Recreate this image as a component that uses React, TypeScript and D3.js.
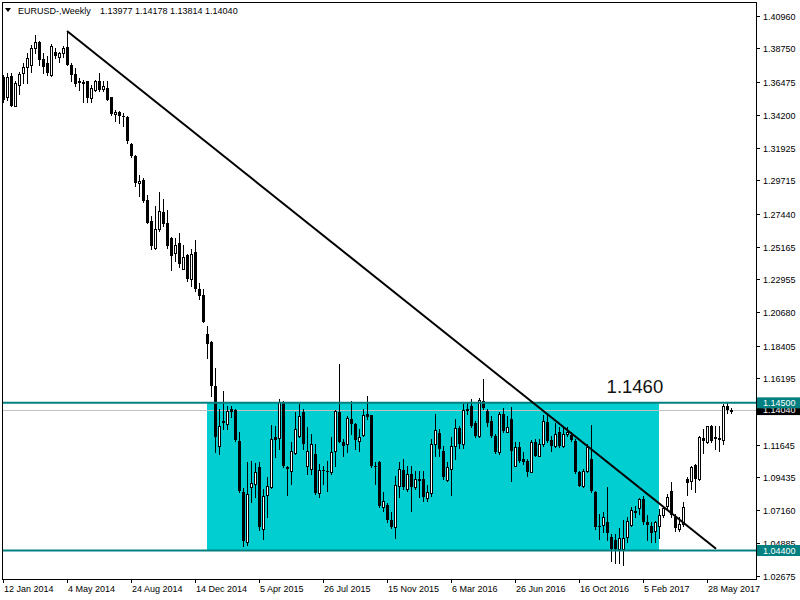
import React from 'react';
import * as d3 from 'd3';

// Weekly EURUSD candles, bar 0 = week of 12 Jan 2014
const opens = [
  1.3682, 1.3541, 1.3686, 1.3482, 1.3625, 1.3705, 1.3750, 1.3762, 1.3876, 1.3921,
  1.3801, 1.3773, 1.3693, 1.3852, 1.3814, 1.3841, 1.3887, 1.3762, 1.3700, 1.3648,
  1.3636, 1.3648, 1.3534, 1.3591, 1.3652, 1.3596, 1.3603, 1.3541, 1.3427, 1.3436,
  1.3409, 1.3402, 1.3220, 1.3136, 1.2954, 1.2977, 1.2840, 1.2692, 1.2511, 1.2636,
  1.2757, 1.2681, 1.2579, 1.2477, 1.2540, 1.2367, 1.2458, 1.2294, 1.2481, 1.2231,
  1.2185, 1.1919, 1.1863, 1.1566, 1.1157, 1.1325, 1.1305, 1.1407, 1.1400, 1.1191,
  1.0839, 1.0497, 1.0874, 1.0895, 1.1009, 1.0588, 1.0822, 1.0874, 1.1214, 1.1207,
  1.1453, 1.1009, 1.0986, 1.1107, 1.1221, 1.1385, 1.1017, 1.0998, 1.1100, 1.0834,
  1.0993, 1.0986, 1.0975, 1.1123, 1.1389, 1.1180, 1.1168, 1.1339, 1.1305, 1.1191,
  1.1230, 1.1373, 1.1366, 1.1020, 1.1043, 1.0736, 1.0754, 1.0652, 1.0600, 1.0880,
  1.0993, 1.0861, 1.0964, 1.0874, 1.0930, 1.0930, 1.0798, 1.0834, 1.1168, 1.1244,
  1.1123, 1.0925, 1.0998, 1.1153, 1.1276, 1.1168, 1.1407, 1.1430, 1.1312, 1.1221,
  1.1464, 1.1395, 1.1328, 1.1221, 1.1116, 1.1373, 1.1253, 1.1339, 1.1020, 1.1146,
  1.1066, 1.1054, 1.0979, 1.1184, 1.1089, 1.1168, 1.1321, 1.1198, 1.1157, 1.1248,
  1.1157, 1.1237, 1.1230, 1.1191, 1.0975, 1.0884, 1.0986, 1.1066, 1.0843, 1.0611,
  1.0616, 1.0634, 1.0534, 1.0512, 1.0448, 1.0448, 1.0532, 1.0616, 1.0712, 1.0729,
  1.0793, 1.0634, 1.0608, 1.0570, 1.0611, 1.0680, 1.0743, 1.0850, 1.0668, 1.0588,
  1.0623, 1.0930, 1.0918, 1.1025, 1.0930, 1.1207, 1.1184, 1.1289, 1.1214, 1.1207,
  1.1198, 1.1426, 1.13977,
];
const highs = [
  1.3693, 1.3705, 1.3705, 1.3648, 1.3716, 1.3777, 1.3841, 1.3898, 1.3966, 1.3925,
  1.3841, 1.3823, 1.3905, 1.3876, 1.3852, 1.3891, 1.3993, 1.3773, 1.3739, 1.3671,
  1.3660, 1.3650, 1.3625, 1.3659, 1.3705, 1.3648, 1.3648, 1.3545, 1.3450, 1.3443,
  1.3432, 1.3409, 1.3227, 1.3147, 1.3011, 1.2990, 1.2870, 1.2726, 1.2795, 1.2890,
  1.2847, 1.2772, 1.2585, 1.2579, 1.2613, 1.2533, 1.2465, 1.2504, 1.2567, 1.2272,
  1.2226, 1.1976, 1.1870, 1.1685, 1.1407, 1.1534, 1.1430, 1.1430, 1.1410, 1.1248,
  1.0870, 1.1043, 1.1052, 1.1040, 1.1043, 1.0861, 1.0941, 1.1298, 1.1294, 1.1476,
  1.1464, 1.1020, 1.1180, 1.1385, 1.1442, 1.1407, 1.1282, 1.1237, 1.1168, 1.1032,
  1.1020, 1.1054, 1.1214, 1.1400, 1.1714, 1.1203, 1.1362, 1.1461, 1.1310, 1.1271,
  1.1407, 1.1495, 1.1370, 1.1043, 1.1054, 1.0839, 1.0766, 1.0702, 1.0952, 1.1043,
  1.1066, 1.1020, 1.1020, 1.0986, 1.0986, 1.0986, 1.0890, 1.1200, 1.1376, 1.1271,
  1.1157, 1.1043, 1.1218, 1.1342, 1.1294, 1.1442, 1.1453, 1.1476, 1.1328, 1.1480,
  1.1616, 1.1407, 1.1362, 1.1237, 1.1385, 1.1415, 1.1362, 1.1424, 1.1180, 1.1185,
  1.1111, 1.1066, 1.1198, 1.1203, 1.1203, 1.1367, 1.1373, 1.1221, 1.1312, 1.1282,
  1.1282, 1.1282, 1.1253, 1.1203, 1.0986, 1.0998, 1.1168, 1.1300, 1.0850, 1.0691,
  1.0702, 1.0874, 1.0554, 1.0554, 1.0595, 1.0649, 1.0668, 1.0736, 1.0747, 1.0798,
  1.0816, 1.0680, 1.0638, 1.0645, 1.0725, 1.0747, 1.0827, 1.0906, 1.0691, 1.0668,
  1.0775, 1.0941, 1.1020, 1.1032, 1.1221, 1.1268, 1.1294, 1.1296, 1.1294, 1.1289,
  1.1445, 1.1448, 1.14178,
];
const lows = [
  1.3511, 1.3523, 1.3478, 1.3478, 1.3564, 1.3641, 1.3641, 1.3716, 1.3841, 1.3762,
  1.3705, 1.3693, 1.3686, 1.3807, 1.3784, 1.3818, 1.3758, 1.3648, 1.3614, 1.3591,
  1.3505, 1.3511, 1.3511, 1.3580, 1.3580, 1.3580, 1.3520, 1.3420, 1.3375, 1.3364,
  1.3341, 1.3227, 1.3130, 1.2931, 1.2863, 1.2825, 1.2677, 1.2499, 1.2499, 1.2624,
  1.2658, 1.2511, 1.2358, 1.2420, 1.2381, 1.2363, 1.2283, 1.2249, 1.2215, 1.2158,
  1.2000, 1.1760, 1.1498, 1.1112, 1.1100, 1.1270, 1.1271, 1.1350, 1.1190, 1.0843,
  1.0470, 1.0480, 1.0770, 1.0804, 1.0577, 1.0520, 1.0668, 1.0866, 1.1080, 1.1134,
  1.1009, 1.0820, 1.0895, 1.1100, 1.1214, 1.1134, 1.0964, 1.0964, 1.0827, 1.0804,
  1.0895, 1.0850, 1.0964, 1.1020, 1.1180, 1.1089, 1.1111, 1.1237, 1.1134, 1.1123,
  1.1221, 1.1339, 1.1009, 1.0895, 1.0736, 1.0713, 1.0638, 1.0592, 1.0524, 1.0804,
  1.0861, 1.0850, 1.0711, 1.0861, 1.0804, 1.0782, 1.0780, 1.0810, 1.1089, 1.1089,
  1.0930, 1.0918, 1.0822, 1.1066, 1.1144, 1.1144, 1.1375, 1.1282, 1.1214, 1.1214,
  1.1405, 1.1289, 1.1214, 1.1107, 1.1100, 1.1248, 1.1248, 1.0912, 1.1017, 1.1043,
  1.1032, 1.0952, 1.0975, 1.1084, 1.1084, 1.1157, 1.1180, 1.1123, 1.1146, 1.1146,
  1.1146, 1.1225, 1.1191, 1.0970, 1.0880, 1.0874, 1.0979, 1.0843, 1.0588, 1.0520,
  1.0566, 1.0509, 1.0367, 1.0355, 1.0352, 1.0341, 1.0495, 1.0611, 1.0668, 1.0691,
  1.0623, 1.0512, 1.0500, 1.0497, 1.0525, 1.0668, 1.0725, 1.0668, 1.0570, 1.0570,
  1.0611, 1.0821, 1.0861, 1.0838, 1.0925, 1.1110, 1.1176, 1.1180, 1.1134, 1.1120,
  1.1168, 1.1380, 1.13814,
];
const closes = [
  1.3523, 1.3678, 1.3482, 1.3641, 1.3700, 1.3750, 1.3807, 1.3876, 1.3921, 1.3796,
  1.3750, 1.3705, 1.3891, 1.3823, 1.3841, 1.3876, 1.3762, 1.3693, 1.3632, 1.3637,
  1.3643, 1.3534, 1.3603, 1.3648, 1.3591, 1.3614, 1.3523, 1.3427, 1.3436, 1.3409,
  1.3405, 1.3238, 1.3136, 1.2954, 1.2970, 1.2829, 1.2681, 1.2522, 1.2636, 1.2761,
  1.2670, 1.2522, 1.2454, 1.2533, 1.2397, 1.2449, 1.2294, 1.2465, 1.2226, 1.2181,
  1.2003, 1.1851, 1.1566, 1.1214, 1.1289, 1.1312, 1.1395, 1.1390, 1.1199, 1.0850,
  1.0502, 1.0827, 1.0901, 1.0975, 1.0600, 1.0816, 1.0880, 1.1203, 1.1198, 1.1453,
  1.1017, 1.0998, 1.1118, 1.1271, 1.1362, 1.1168, 1.1123, 1.1168, 1.0834, 1.0993,
  1.0986, 1.0975, 1.1111, 1.1395, 1.1184, 1.1157, 1.1344, 1.1305, 1.1198, 1.1214,
  1.1366, 1.1355, 1.1020, 1.1009, 1.0743, 1.0777, 1.0652, 1.0600, 1.0888, 1.0998,
  1.0874, 1.0964, 1.0874, 1.0930, 1.0918, 1.0804, 1.0839, 1.1168, 1.1264, 1.1134,
  1.0941, 1.1009, 1.1157, 1.1276, 1.1168, 1.1400, 1.1395, 1.1289, 1.1225, 1.1471,
  1.1412, 1.1312, 1.1225, 1.1111, 1.1373, 1.1259, 1.1282, 1.1123, 1.1146, 1.1054,
  1.1048, 1.0979, 1.1180, 1.1089, 1.1168, 1.1328, 1.1191, 1.1157, 1.1237, 1.1157,
  1.1237, 1.1248, 1.1198, 1.0975, 1.0884, 1.0986, 1.1146, 1.0850, 1.0600, 1.0600,
  1.0668, 1.0558, 1.0448, 1.0448, 1.0523, 1.0523, 1.0645, 1.0714, 1.0695, 1.0793,
  1.0634, 1.0614, 1.0558, 1.0634, 1.0680, 1.0729, 1.0804, 1.0680, 1.0593, 1.0623,
  1.0736, 1.0903, 1.1009, 1.0930, 1.1214, 1.1191, 1.1289, 1.1191, 1.1203, 1.1198,
  1.1430, 1.1398, 1.14040,
];

const dateLabels = [
  '12 Jan 2014', '4 May 2014', '24 Aug 2014', '14 Dec 2014', '5 Apr 2015', '26 Jul 2015',
  '15 Nov 2015', '6 Mar 2016', '26 Jun 2016', '16 Oct 2016', '5 Feb 2017', '28 May 2017',
];
const dateLabelBars = [0, 16, 32, 48, 64, 80, 96, 112, 128, 144, 160, 176];

const priceTicks = [
  1.4096, 1.3875, 1.36475, 1.342, 1.31925, 1.29715, 1.2744, 1.25165, 1.22955,
  1.2068, 1.18405, 1.16195, 1.11645, 1.09435, 1.0716, 1.04885, 1.02675,
];

const levelPrices = [1.145, 1.044];
const zoneBars = [51, 164];
const trendBars = [16, 178.25];
const trendPrices = [1.3993, 1.0452];
const symbolTitle = 'EURUSD-,Weekly';
const annotationText = '1.1460';
const annotationBar = 150.9;
const annotationPrice = 1.1514;

const FONT = "'Liberation Sans', Arial, sans-serif";
const TEAL = '#008080';
const ZONE = '#00CED1';

export default function App() {
  const n = closes.length;
  const last = n - 1;
  const x = d3.scaleLinear().domain([0, 182]).range([3, 731]);
  const y = d3.scaleLinear().domain([1.044, 1.4096]).range([550.5, 16]);
  const fmt = d3.format('.5f');

  const plotL = 2, plotR = 756, plotT = 2, plotB = 579;
  const bidPrice = closes[last];

  const candles = d3.range(n).map((i) => {
    const px = Math.round(x(i));
    const o = opens[i], c = closes[i], h = highs[i], l = lows[i];
    const top = Math.round(y(Math.max(o, c)));
    const bot = Math.round(y(Math.min(o, c)));
    const up = c > o;
    return (
      <g key={i}>
        <line x1={px + 0.5} x2={px + 0.5} y1={Math.round(y(h))} y2={Math.round(y(l)) + 1} stroke="#000" strokeWidth={1} />
        {up ? (
          <rect x={px - 0.5} y={top + 0.5} width={2} height={Math.max(bot - top, 1)} fill="#fff" stroke="#000" strokeWidth={1} />
        ) : (
          <rect x={px - 1} y={top} width={3} height={Math.max(bot - top, 1)} fill="#000" />
        )}
      </g>
    );
  });

  const levelLabelBoxes = levelPrices.map((p, k) => {
    const yy = y(p);
    return (
      <g key={'lvl' + k}>
        <rect x={plotR + 1} y={yy - 5.5} width={44} height={11} fill={TEAL} />
        <text x={763} y={yy + 3.3} fill="#fff" fontSize={9} fontFamily={FONT}>{fmt(p)}</text>
      </g>
    );
  });

  return (
    <svg width={800} height={600} style={{ position: 'absolute', left: 0, top: 0, background: '#fff' }}>
      <rect x={0} y={0} width={800} height={600} fill="#fff" />
      {/* support/resistance zone */}
      <rect x={x(zoneBars[0])} y={y(levelPrices[0])} width={x(zoneBars[1]) - x(zoneBars[0])} height={y(levelPrices[1]) - y(levelPrices[0])} fill={ZONE} />
      {/* bid line */}
      <line x1={plotL} x2={plotR} y1={Math.round(y(bidPrice)) + 0.5} y2={Math.round(y(bidPrice)) + 0.5} stroke="#C0C0C0" strokeWidth={1} />
      <g shapeRendering="crispEdges">{candles}</g>
      {/* horizontal levels */}
      {levelPrices.map((p, k) => (
        <line key={'h' + k} x1={plotL} x2={plotR} y1={y(p)} y2={y(p)} stroke={TEAL} strokeWidth={2} />
      ))}
      {/* trend line */}
      <line x1={x(trendBars[0])} y1={y(trendPrices[0])} x2={x(trendBars[1])} y2={y(trendPrices[1])} stroke="#000" strokeWidth={2} />
      {/* annotation */}
      <text x={x(annotationBar)} y={y(annotationPrice)} fontSize={18.5} fontFamily={FONT} fill="#111">{annotationText}</text>
      {/* frame */}
      <rect x={plotL + 0.5} y={plotT + 0.5} width={plotR - plotL} height={plotB - plotT} fill="none" stroke="#000" strokeWidth={1} shapeRendering="crispEdges" />
      {/* right axis */}
      {priceTicks.map((p, k) => {
        const yy = Math.round(y(p)) + 0.5;
        return (
          <g key={'pt' + k}>
            <line x1={plotR + 0.5} x2={plotR + 4} y1={yy} y2={yy} stroke="#000" shapeRendering="crispEdges" />
            <text x={763} y={yy + 3} fontSize={9} fontFamily={FONT} fill="#000">{fmt(p)}</text>
          </g>
        );
      })}
      {/* bid label */}
      <rect x={plotR + 1} y={y(bidPrice) - 5.5} width={44} height={11} fill="#000" />
      <text x={763} y={y(bidPrice) + 3.3} fill="#fff" fontSize={9} fontFamily={FONT}>{fmt(bidPrice)}</text>
      {levelLabelBoxes}
      {/* bottom axis */}
      {dateLabelBars.map((b, k) => {
        const px = Math.round(x(b)) + 0.5;
        return (
          <g key={'d' + k}>
            <line x1={px} x2={px} y1={plotB + 0.5} y2={plotB + 4} stroke="#000" shapeRendering="crispEdges" />
            <text x={px + 0.5} y={592} fontSize={9} fontFamily={FONT} fill="#000">{dateLabels[k]}</text>
          </g>
        );
      })}
      {/* header */}
      <polygon points="5,8 11,8 8,12" fill="#000" />
      <text x={18} y={14} fontSize={9} fontFamily={FONT} fill="#000">{symbolTitle}</text>
      <text x={100} y={14} fontSize={9} fontFamily={FONT} fill="#000">
        {[opens[last], highs[last], lows[last], closes[last]].map((v) => fmt(v)).join(' ')}
      </text>
    </svg>
  );
}
